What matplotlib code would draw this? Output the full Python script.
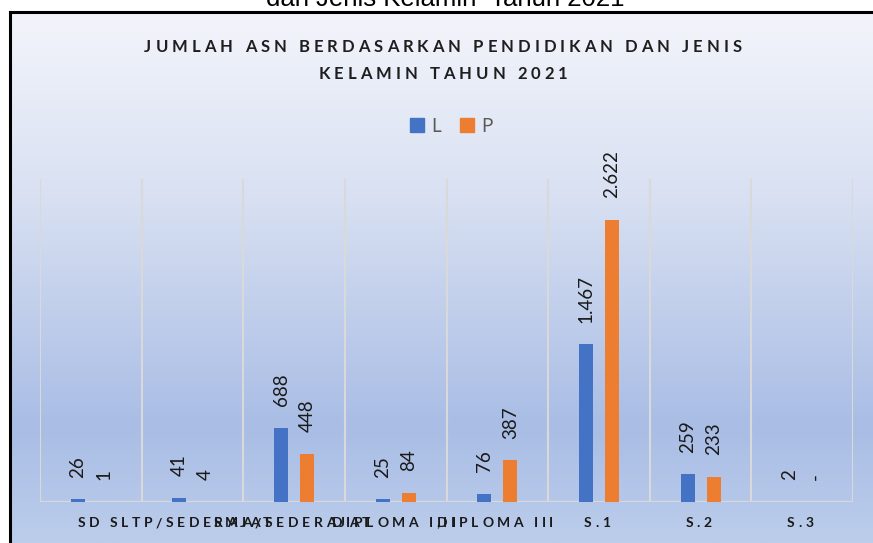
import numpy as np
import matplotlib
matplotlib.use("Agg")
import matplotlib.pyplot as plt
from matplotlib.patches import Patch
from matplotlib.colors import LinearSegmentedColormap

categories = ["SD", "SLTP/SEDERAJAT", "SMA/SEDERAJAT", "DIPLOMA I,II",
              "DIPLOMA III", "S.1", "S.2", "S.3"]
laki = [26, 41, 688, 25, 76, 1467, 259, 2]
perempuan = [1, 4, 448, 84, 387, 2622, 233, 0]
series_names = ["L", "P"]
title_lines = ["JUMLAH ASN BERDASARKAN PENDIDIKAN DAN JENIS", "KELAMIN TAHUN 2021"]
caption = "dan Jenis Kelamin  Tahun 2021"

BLUE = "#4472C4"
ORANGE = "#ED7D31"
W, H = 873, 543
FONT = ["Lato", "DejaVu Sans"]


def fmt(v):
    if v == 0:
        return "-"
    return f"{v:,}".replace(",", ".")


fig = plt.figure(figsize=(W / 100, H / 100), dpi=100)
fig.patch.set_facecolor("white")
renderer = fig.canvas.get_renderer()


def char_widths(s, **kw):
    """Advance of each character, measured between two guard bars."""
    probe = fig.text(0, 0, "||", **kw)
    base = probe.get_window_extent(renderer).width
    probe.remove()
    out = []
    for ch in s:
        t = fig.text(0, 0, "|" + ch + "|", **kw)
        out.append(t.get_window_extent(renderer).width - base)
        t.remove()
    return out


def tracked_text(xc, y_base, s, track, **kw):
    """Draw s centred at pixel xc with extra letter spacing (pixels from top-left)."""
    widths = char_widths(s, **kw)
    total = sum(widths) + track * (len(s) - 1)
    x = xc - total / 2
    for ch, w in zip(s, widths):
        if ch != " ":
            fig.text(x / W, 1 - y_base / H, ch, ha="left", va="baseline", **kw)
        x += w + track


# caption of the document above the chart frame (cut by the page edge)
fig.text(445 / W, 1 - 6 / H, caption, ha="center", va="baseline",
         fontsize=18.5, family="Liberation Sans", color="black")

# chart frame with vertical gradient fill
bg = fig.add_axes([10 / W, 0, (W - 10) / W, (H - 12) / H], zorder=0)
grad = LinearSegmentedColormap.from_list(
    "frame", [(0.0, "#f3f5fb"), (0.35, "#d8e0f2"), (0.78, "#a9bde5"), (1.0, "#bccdeb")])
bg.imshow(np.linspace(0, 1, 256).reshape(-1, 1), cmap=grad, aspect="auto",
          extent=[0, 1, 0, 1], origin="upper")
bg.set_xticks([]); bg.set_yticks([])
for side in ("right", "bottom"):
    bg.spines[side].set_visible(False)
for side in ("left", "top"):
    bg.spines[side].set_color("black")
    bg.spines[side].set_linewidth(2.2)

# plot area
ax = fig.add_axes([40 / W, (H - 502) / H, (853 - 40) / W, (502 - 179) / H], zorder=1)
ax.set_facecolor("none")
x = np.arange(len(categories))
bw = 0.138
off = 0.128
ax.bar(x - off, laki, width=bw, color=BLUE, zorder=3)
ax.bar(x + off, perempuan, width=bw, color=ORANGE, zorder=3)
ax.set_xlim(-0.5, len(categories) - 0.5)
ax.set_ylim(0, 3000)

for b in np.arange(-0.5, len(categories), 1.0):
    ax.axvline(b, color="#d9d9d9", lw=1.5, zorder=1)
for s in ax.spines.values():
    s.set_visible(False)
ax.axhline(0, color="#d9d9d9", lw=1.5, zorder=2)
ax.set_yticks([])
ax.set_xticks([])

for xs, vals in ((x - off, laki), (x + off, perempuan)):
    for xi, v in zip(xs, vals):
        ax.annotate(fmt(v), (xi, v), xytext=(0, 15.5), textcoords="offset points",
                    rotation=90, ha="center", va="bottom", fontsize=13.5,
                    family=FONT, color="#1a1a1a")

# category labels, letter-spaced like the chart's axis text
tick_kw = dict(fontsize=10, fontweight="bold", color="#1a1a1a", family=FONT)
for xi, cat in zip(x, categories):
    px = ax.transData.transform((xi, 0))[0]
    tracked_text(px - 2, 527, cat, 3.6, **tick_kw)

# title
title_kw = dict(fontsize=12, fontweight="bold", color="#1e1e1e", family=FONT)
tracked_text(443, 52, title_lines[0], 4.0, **title_kw)
tracked_text(443, 79, title_lines[1], 4.0, **title_kw)

# legend
handles = [Patch(color=BLUE), Patch(color=ORANGE)]
fig.legend(handles, series_names, loc="center", bbox_to_anchor=(451 / W, 1 - 126 / H),
           ncol=2, frameon=False, handlelength=0.75, handleheight=0.75,
           handletextpad=0.4, columnspacing=1.0,
           prop={"family": FONT, "size": 13.5},
           labelcolor="#595959")

fig.savefig("out.png", dpi=100)
